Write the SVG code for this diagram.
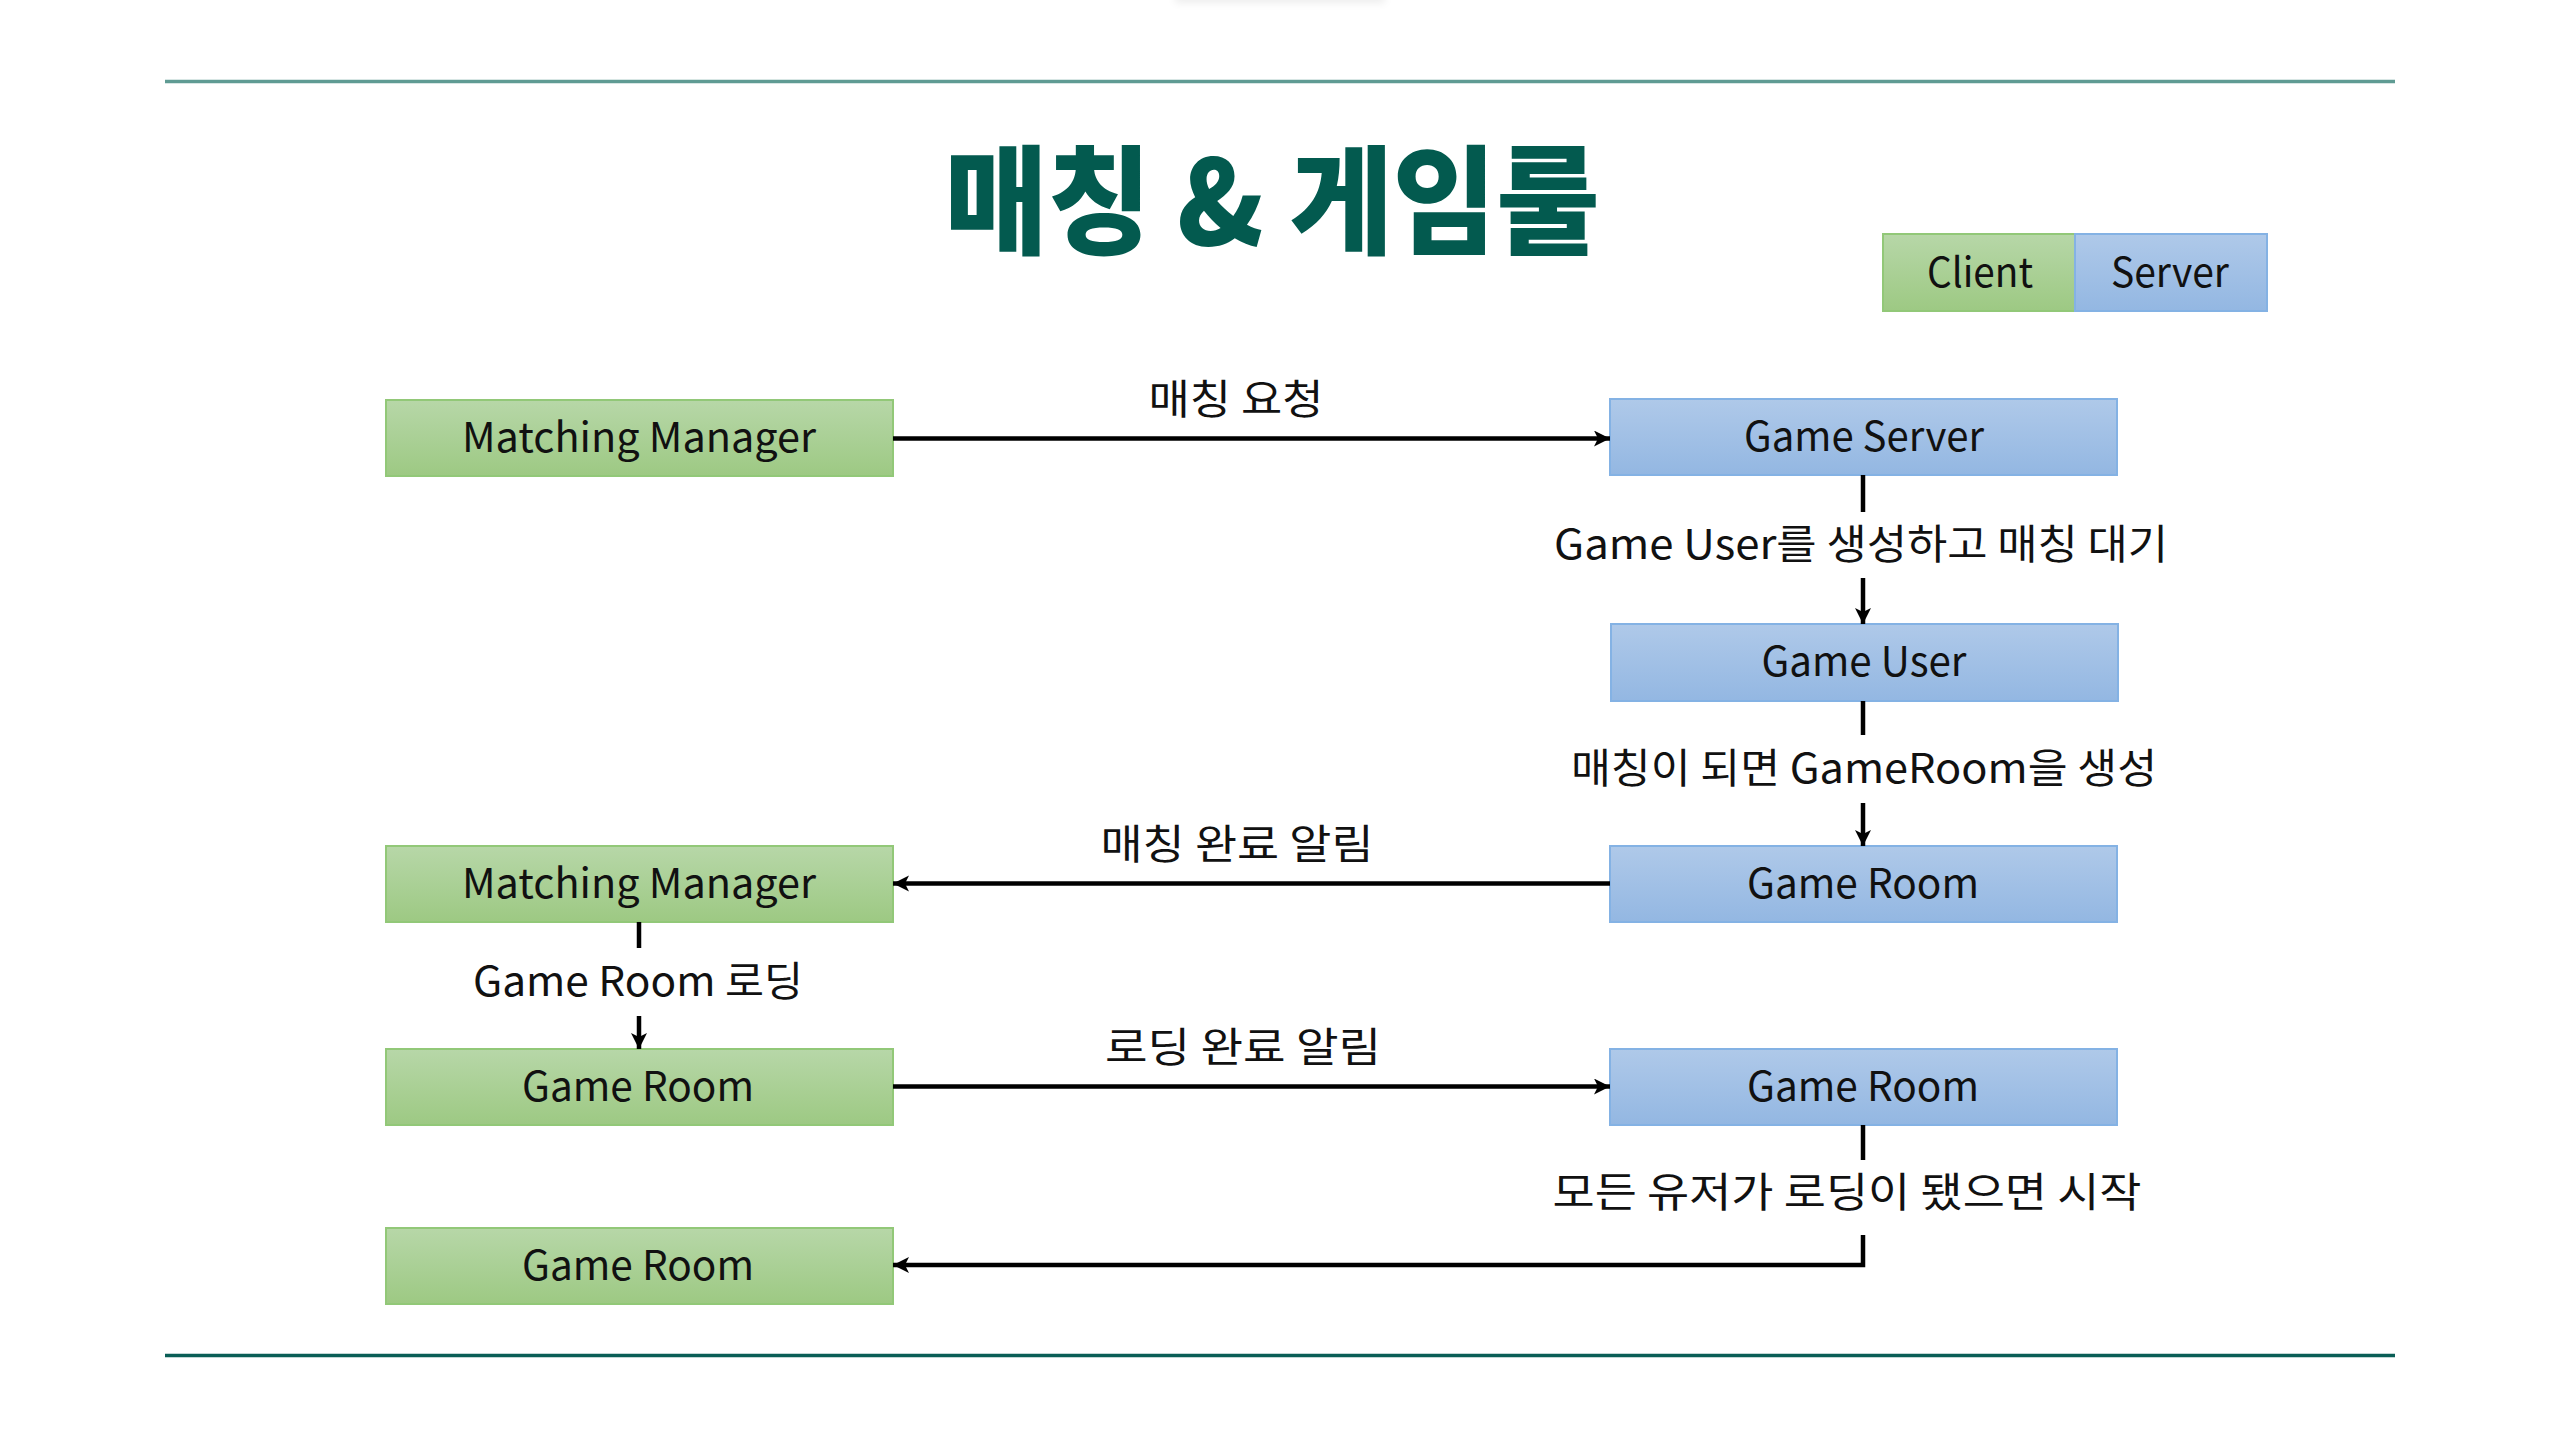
<svg xmlns="http://www.w3.org/2000/svg" width="2560" height="1440" viewBox="0 0 2560 1440">
<style>
.client{fill:url(#gGreen);stroke:#92c878;stroke-width:2}
.server{fill:url(#gBlue);stroke:#84b2e4;stroke-width:2}
.lbl{font-family:"Noto Sans CJK KR","Noto Sans",sans-serif;font-size:41px;fill:#111;text-anchor:middle}
.conn{stroke:#000;stroke-width:4.5;fill:none}
.rule{stroke-width:3.5}
</style>
<defs>
<linearGradient id="gGreen" x1="0" y1="0" x2="0" y2="1">
<stop offset="0" stop-color="#b7d7a8"/>
<stop offset="1" stop-color="#9dc983"/>
</linearGradient>
<linearGradient id="gBlue" x1="0" y1="0" x2="0" y2="1">
<stop offset="0" stop-color="#afc9e9"/>
<stop offset="1" stop-color="#93b7e2"/>
</linearGradient>
<marker id="arr" markerUnits="userSpaceOnUse" markerWidth="17" markerHeight="17" refX="16" refY="8" orient="auto">
<path d="M0,0 L16,8 L0,16 L4,8 z" fill="#000"/>
</marker>
<filter id="blur" x="-20%" y="-200%" width="140%" height="500%"><feGaussianBlur stdDeviation="4"/></filter>
</defs>
<rect width="2560" height="1440" fill="#fff"/>
<rect x="1175" y="-10" width="210" height="13" fill="#000" opacity="0.07" filter="url(#blur)"/>
<line class="rule" x1="165" y1="81.5" x2="2395" y2="81.5" stroke="#5f9b93"/>
<line class="rule" x1="165" y1="1355.5" x2="2395" y2="1355.5" stroke="#0a5e56"/>
<text x="1272" y="245" font-family="'Noto Sans CJK KR',sans-serif" font-weight="900" font-size="118" fill="#035a4f" text-anchor="middle" textLength="655" lengthAdjust="spacingAndGlyphs">매칭 &amp; 게임룰</text>

<g id="legend-client"><rect class="client" x="1883" y="234" width="192" height="77"/><text class="lbl" x="1980" y="287" textLength="106" lengthAdjust="spacingAndGlyphs">Client</text></g>
<g id="legend-server"><rect class="server" x="2075" y="234" width="192" height="77"/><text class="lbl" x="2170" y="287" textLength="118" lengthAdjust="spacingAndGlyphs">Server</text></g>

<g id="matching-manager-1"><rect class="client" x="386" y="400" width="507" height="76"/><text class="lbl" x="639" y="452" textLength="354" lengthAdjust="spacingAndGlyphs">Matching Manager</text></g>
<g id="game-server"><rect class="server" x="1610" y="399" width="507" height="76"/><text class="lbl" x="1864" y="451" textLength="240" lengthAdjust="spacingAndGlyphs">Game Server</text></g>
<g id="game-user"><rect class="server" x="1611" y="624" width="507" height="77"/><text class="lbl" x="1864" y="676" textLength="205" lengthAdjust="spacingAndGlyphs">Game User</text></g>
<g id="game-room-server-1"><rect class="server" x="1610" y="846" width="507" height="76"/><text class="lbl" x="1863" y="898" textLength="232" lengthAdjust="spacingAndGlyphs">Game Room</text></g>
<g id="matching-manager-2"><rect class="client" x="386" y="846" width="507" height="76"/><text class="lbl" x="639" y="898" textLength="354" lengthAdjust="spacingAndGlyphs">Matching Manager</text></g>
<g id="game-room-client-1"><rect class="client" x="386" y="1049" width="507" height="76"/><text class="lbl" x="638" y="1101" textLength="232" lengthAdjust="spacingAndGlyphs">Game Room</text></g>
<g id="game-room-server-2"><rect class="server" x="1610" y="1049" width="507" height="76"/><text class="lbl" x="1863" y="1101" textLength="232" lengthAdjust="spacingAndGlyphs">Game Room</text></g>
<g id="game-room-client-2"><rect class="client" x="386" y="1228" width="507" height="76"/><text class="lbl" x="638" y="1280" textLength="232" lengthAdjust="spacingAndGlyphs">Game Room</text></g>

<g id="connectors">
<path class="conn" d="M893,438.5 H1610" marker-end="url(#arr)"/>
<text class="lbl" x="1236" y="414" textLength="175" lengthAdjust="spacingAndGlyphs">매칭 요청</text>

<path class="conn" d="M1863,475 V512"/>
<text class="lbl" x="1861" y="559" textLength="614" lengthAdjust="spacingAndGlyphs">Game User를 생성하고 매칭 대기</text>
<path class="conn" d="M1863,578 V624" marker-end="url(#arr)"/>

<path class="conn" d="M1863,701 V735"/>
<text class="lbl" x="1864" y="783" textLength="586" lengthAdjust="spacingAndGlyphs">매칭이 되면 GameRoom을 생성</text>
<path class="conn" d="M1863,803 V846" marker-end="url(#arr)"/>

<path class="conn" d="M1610,883.5 H893" marker-end="url(#arr)"/>
<text class="lbl" x="1237" y="859" textLength="273" lengthAdjust="spacingAndGlyphs">매칭 완료 알림</text>

<path class="conn" d="M639,922 V948"/>
<text class="lbl" x="638" y="996" textLength="330" lengthAdjust="spacingAndGlyphs">Game Room 로딩</text>
<path class="conn" d="M639,1016 V1049" marker-end="url(#arr)"/>

<path class="conn" d="M893,1086.5 H1610" marker-end="url(#arr)"/>
<text class="lbl" x="1243" y="1062" textLength="276" lengthAdjust="spacingAndGlyphs">로딩 완료 알림</text>

<path class="conn" d="M1863,1125 V1160"/>
<text class="lbl" x="1847" y="1207" textLength="589" lengthAdjust="spacingAndGlyphs">모든 유저가 로딩이 됐으면 시작</text>
<path class="conn" d="M1863,1235 V1265 H893" marker-end="url(#arr)"/>
</g>
</svg>
